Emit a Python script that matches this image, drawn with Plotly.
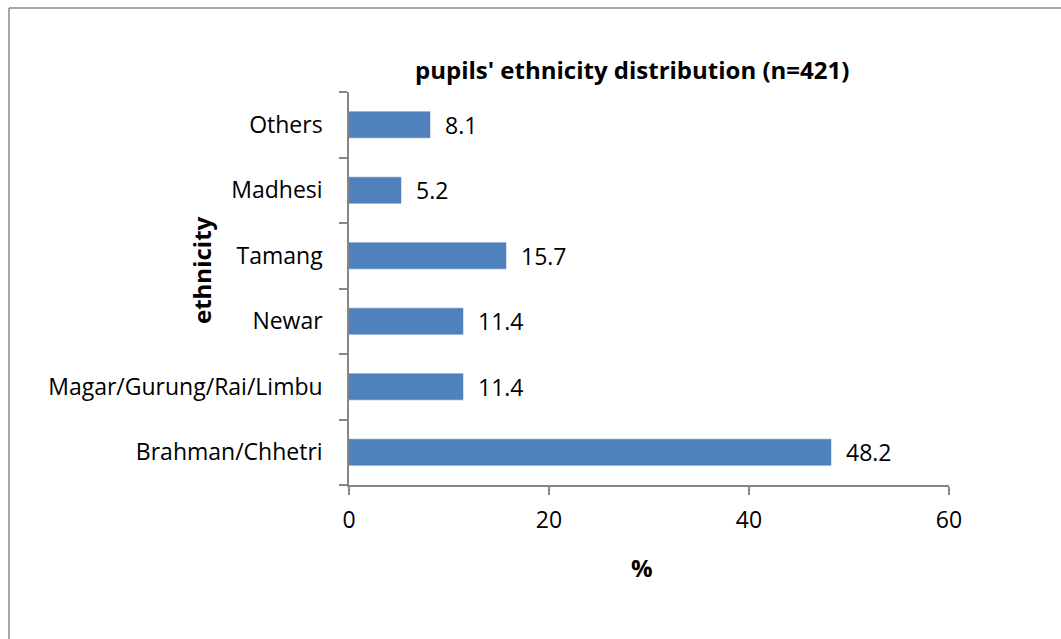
import plotly.graph_objects as go

categories = ["Brahman/Chhetri", "Magar/Gurung/Rai/Limbu", "Newar", "Tamang", "Madhesi", "Others"]
values = [48.2, 11.4, 11.4, 15.7, 5.2, 8.1]
x_ticks = [0, 20, 40, 60]

W, H = 1061, 639
L, R, T, B = 349, 949, 92, 485  # plot area in px
FONT = "Open Sans, Noto Sans, sans-serif"
AXIS = "#868686"
FS = 23

def px_x(p):
    return (p - L) / (R - L)

def px_y(p):
    return (B - p) / (B - T)

fig = go.Figure()
fig.add_trace(go.Bar(
    x=values, y=categories, orientation="h",
    width=0.4,
    marker=dict(color="#4F81BD", line=dict(color="#4F81BD", width=0.5)),
    hoverinfo="skip",
))

annotations = []
for c, v in zip(categories, values):
    annotations.append(dict(
        x=v, y=c, xref="x", yref="y", text=f"{v:.1f}", showarrow=False,
        xanchor="left", yanchor="middle", xshift=13,
        font=dict(family=FONT, size=FS, color="#000000"),
    ))
annotations.append(dict(
    x=px_x(632), y=px_y(69), xref="paper", yref="paper",
    text="<b>pupils' ethnicity distribution (n=421)</b>", showarrow=False,
    xanchor="center", yanchor="middle",
    font=dict(family=FONT, size=24, color="#000000"),
))
annotations.append(dict(
    x=px_x(201), y=px_y(270), xref="paper", yref="paper",
    text="<b>ethnicity</b>", showarrow=False, textangle=-90,
    xanchor="center", yanchor="middle",
    font=dict(family=FONT, size=24, color="#000000"),
))
annotations.append(dict(
    x=px_x(642), y=px_y(567), xref="paper", yref="paper",
    text="<b>%</b>", showarrow=False,
    xanchor="center", yanchor="middle",
    font=dict(family=FONT, size=24, color="#000000"),
))

shapes = [
    dict(type="line", xref="paper", yref="paper",
         x0=px_x(9), y0=px_y(8), x1=px_x(1070), y1=px_y(8),
         line=dict(color="#8a8a8a", width=1.5)),
    dict(type="line", xref="paper", yref="paper",
         x0=px_x(9), y0=px_y(8), x1=px_x(9), y1=px_y(650),
         line=dict(color="#8a8a8a", width=1.5)),
]

fig.update_layout(
    width=W, height=H,
    margin=dict(l=L, r=W - R, t=T, b=H - B, pad=0),
    paper_bgcolor="white", plot_bgcolor="white",
    showlegend=False,
    annotations=annotations,
    shapes=shapes,
    font=dict(family=FONT, size=FS, color="#000000"),
    xaxis=dict(
        range=[0, 60], tickvals=x_ticks, ticktext=[str(t) for t in x_ticks],
        showgrid=False, zeroline=False,
        showline=True, linecolor=AXIS, linewidth=1.5,
        ticks="outside", ticklen=8, tickcolor=AXIS, tickwidth=1.5,
        ticklabelstandoff=6,
        tickfont=dict(family=FONT, size=FS, color="#000000"),
        fixedrange=True,
    ),
    yaxis=dict(
        categoryorder="array", categoryarray=categories,
        showgrid=False, zeroline=False,
        showline=True, linecolor=AXIS, linewidth=1.5,
        ticks="outside", ticklen=8, tickcolor=AXIS, tickwidth=1.5,
        tickson="boundaries",
        ticklabelstandoff=20,
        tickfont=dict(family=FONT, size=FS, color="#000000"),
        fixedrange=True,
    ),
)

fig.write_html("out.html")
